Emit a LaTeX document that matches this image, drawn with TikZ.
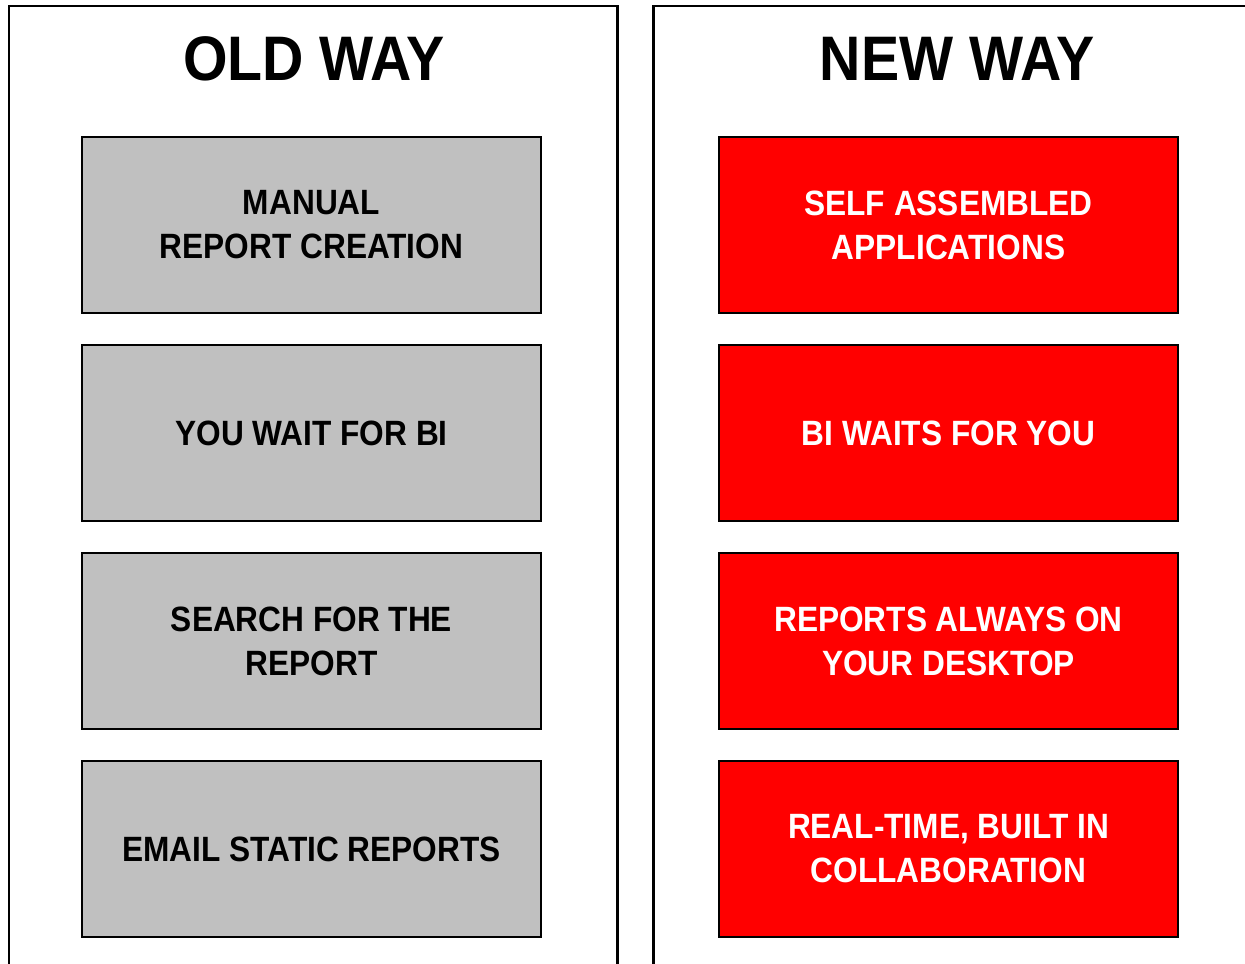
\documentclass[tikz,border=0pt]{standalone}
\usepackage{fontspec}
\usepackage{tikz}
\usetikzlibrary{positioning,calc}
\newfontfamily\wayfont[FakeStretch=0.9]{Liberation Sans Bold}
\newfontfamily\titlefont[FakeStretch=0.91]{Liberation Sans Bold}
\definecolor{oldgray}{HTML}{C0C0C0}
\definecolor{newred}{HTML}{FF0000}
\tikzset{
	waybox/.style={draw=black, line width=0.8pt, minimum width=4.59cm, minimum height=1.76cm,
		inner sep=0pt, align=center, font=\wayfont\fontsize{10}{12.5}\selectfont},
	oldbox/.style={waybox, fill=oldgray, text=black},
	newbox/.style={waybox, fill=newred, text=white},
	waytitle/.style={font=\titlefont\fontsize{17.9}{20}\selectfont, inner sep=0pt},
	panel/.style={draw=black, line width=0.85pt}
}

\begin{document}
\begin{tikzpicture}
	\useasboundingbox (0,0) rectangle (12.45,9.63);
	\clip (0,0) rectangle (12.45,9.63);
	
	% panels
	\draw[panel] (0.09,-0.5) rectangle (6.17,9.57);
	\draw[panel] (6.53,-0.5) rectangle (13,9.57);
	
	\node[waytitle, anchor=base] (old) at (3.14,8.83) {OLD WAY};
	\node[waytitle, anchor=base] (new) at (9.57,8.83) {NEW WAY};
	
	\node[oldbox] (O1) at (3.115,7.38) {MANUAL\\REPORT CREATION};
	\node[oldbox] (O2) at (3.115,5.30) {YOU WAIT FOR BI};
	\node[oldbox] (O3) at (3.115,3.22) {SEARCH FOR THE\\REPORT};
	\node[oldbox] (O4) at (3.115,1.14) {EMAIL STATIC REPORTS};
	
	\node[newbox] (N1) at (9.485,7.38) {SELF ASSEMBLED\\APPLICATIONS};
	\node[newbox] (N2) at (9.485,5.30) {BI WAITS FOR YOU};
	\node[newbox] (N3) at (9.485,3.22) {REPORTS ALWAYS ON\\YOUR DESKTOP};
	\node[newbox] (N4) at (9.485,1.14) {REAL-TIME, BUILT IN\\COLLABORATION};
	
\end{tikzpicture}
\end{document}
